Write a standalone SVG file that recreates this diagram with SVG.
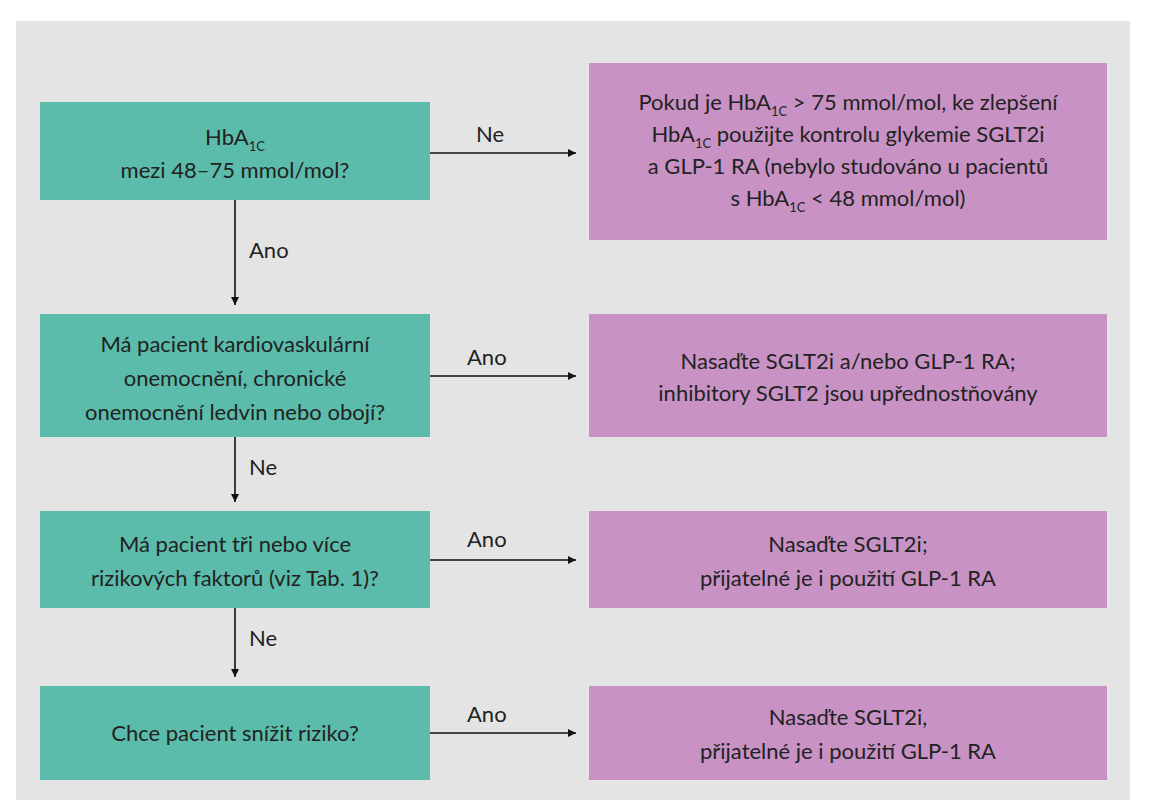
<svg xmlns="http://www.w3.org/2000/svg" width="1151" height="800" viewBox="0 0 1151 800">
<defs>
<marker id="ah" viewBox="0 0 10 10" refX="10" refY="5" markerWidth="8" markerHeight="8" markerUnits="userSpaceOnUse" orient="auto"><path d="M0,0 L10,5 L0,10 z" fill="#111"/></marker>
<style>
.g{fill:#5bbcab}.p{fill:#c892c4}
text{font-family:Lato,"Open Sans",sans-serif;font-size:22px;fill:#222;text-anchor:middle}
.l{text-anchor:start}
.s{font-size:13px}
line{stroke:#111;stroke-width:1.6;marker-end:url(#ah)}
</style>
</defs>
<rect width="1151" height="800" fill="#fff"/>
<rect x="16" y="21" width="1114" height="779" fill="#e4e4e4"/>
<g id="q1"><rect class="g" x="40" y="102" width="390" height="98"/>
<text x="235" y="145">HbA<tspan class="s" dy="6">1C</tspan></text>
<text x="235" y="178">mezi 48–75 mmol/mol?</text></g>
<g id="a1"><rect class="p" x="589" y="63" width="518" height="177"/>
<text x="848" y="110">Pokud je HbA<tspan class="s" dy="6">1C</tspan><tspan dy="-6"> &gt; 75 mmol/mol, ke zlepšení</tspan></text>
<text x="848" y="142">HbA<tspan class="s" dy="6">1C</tspan><tspan dy="-6"> použijte kontrolu glykemie SGLT2i</tspan></text>
<text x="848" y="174">a GLP-1 RA (nebylo studováno u pacientů</text>
<text x="848" y="206">s HbA<tspan class="s" dy="6">1C</tspan><tspan dy="-6"> &lt; 48 mmol/mol)</tspan></text></g>
<g id="q2"><rect class="g" x="40" y="314" width="390" height="123"/>
<text x="235" y="352">Má pacient kardiovaskulární</text>
<text x="235" y="386">onemocnění, chronické</text>
<text x="235" y="420">onemocnění ledvin nebo obojí?</text></g>
<g id="a2"><rect class="p" x="589" y="314" width="518" height="123"/>
<text x="848" y="369">Nasaďte SGLT2i a/nebo GLP-1 RA;</text>
<text x="848" y="401">inhibitory SGLT2 jsou upřednostňovány</text></g>
<g id="q3"><rect class="g" x="40" y="511" width="390" height="97"/>
<text x="235" y="552">Má pacient tři nebo více</text>
<text x="235" y="586">rizikových faktorů (viz Tab. 1)?</text></g>
<g id="a3"><rect class="p" x="589" y="511" width="518" height="97"/>
<text x="848" y="552">Nasaďte SGLT2i;</text>
<text x="848" y="586">přijatelné je i použití GLP-1 RA</text></g>
<g id="q4"><rect class="g" x="40" y="686" width="390" height="94"/>
<text x="235" y="741">Chce pacient snížit riziko?</text></g>
<g id="a4"><rect class="p" x="589" y="686" width="518" height="94"/>
<text x="848" y="725">Nasaďte SGLT2i,</text>
<text x="848" y="759">přijatelné je i použití GLP-1 RA</text></g>
<g id="connectors">
<line x1="430" y1="153" x2="576" y2="153"/><text class="l" x="476" y="142">Ne</text>
<line x1="235" y1="200" x2="235" y2="305"/><text class="l" x="249" y="258">Ano</text>
<line x1="430" y1="376" x2="576" y2="376"/><text class="l" x="467" y="365">Ano</text>
<line x1="235" y1="437" x2="235" y2="502"/><text class="l" x="249" y="475">Ne</text>
<line x1="430" y1="560" x2="576" y2="560"/><text class="l" x="467" y="547">Ano</text>
<line x1="235" y1="608" x2="235" y2="677"/><text class="l" x="249" y="646">Ne</text>
<line x1="430" y1="733" x2="576" y2="733"/><text class="l" x="467" y="722">Ano</text>
</g>
</svg>
